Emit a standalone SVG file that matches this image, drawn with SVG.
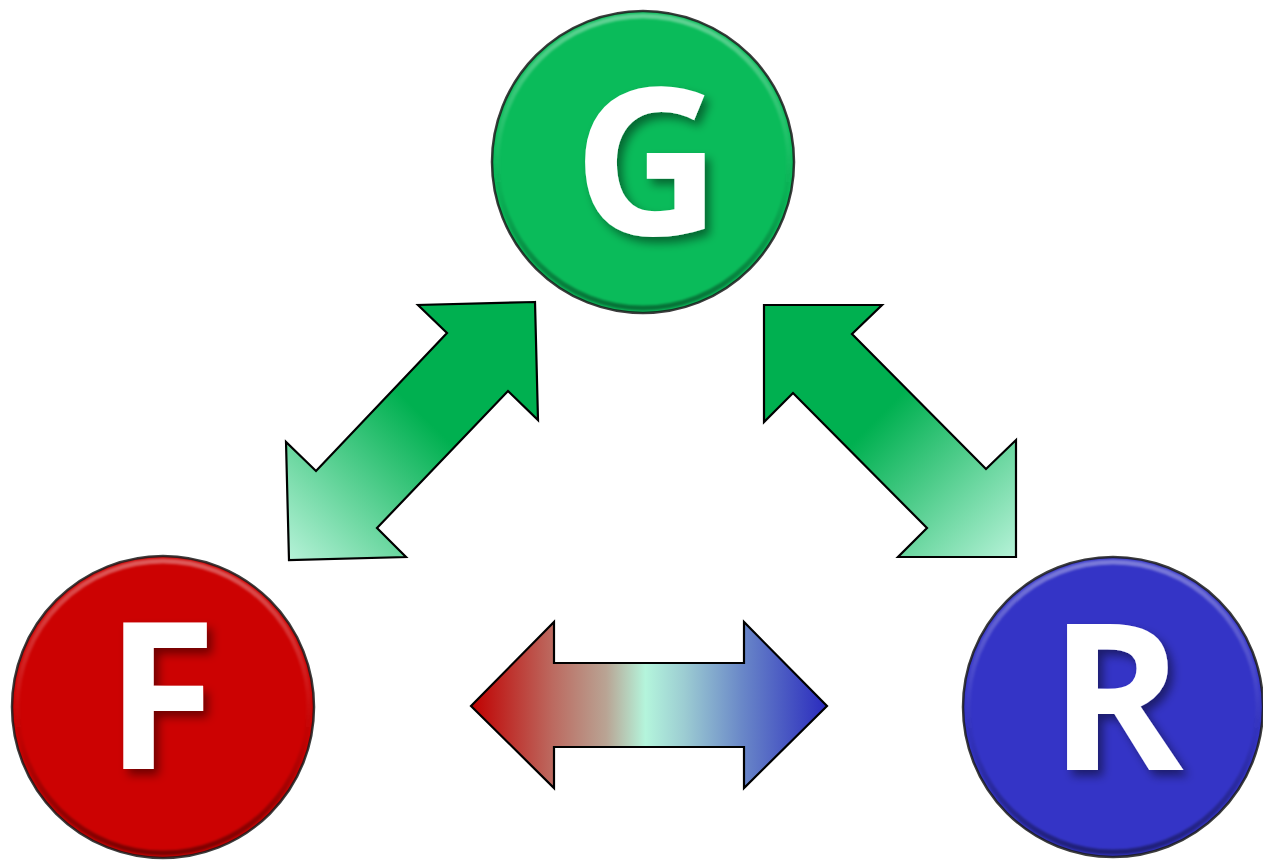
<svg xmlns="http://www.w3.org/2000/svg" width="1263" height="860" viewBox="0 0 1263 860">
  <style>
    .edge { stroke: #000; stroke-width: 2.2; stroke-linejoin: miter; }
    .disc-outline { stroke: #1b1b1b; stroke-width: 2.5; stroke-opacity: 0.85; }
    .bevel { fill: none; stroke: url(#bevel); stroke-width: 5; filter: url(#soft); }
    .letter { font-family: "Open Sans", "Noto Sans", "Liberation Sans", sans-serif; font-weight: 700; font-size: 204px; fill: #fff; text-anchor: middle; filter: url(#shadow); }
  </style>
  <defs>
    <linearGradient id="bevel" x1="0" y1="0" x2="0" y2="1">
      <stop offset="0" stop-color="#ffffff" stop-opacity="0.35"/>
      <stop offset="0.45" stop-color="#ffffff" stop-opacity="0.06"/>
      <stop offset="0.6" stop-color="#000000" stop-opacity="0.05"/>
      <stop offset="1" stop-color="#000000" stop-opacity="0.4"/>
    </linearGradient>
    <filter id="soft" x="-10%" y="-10%" width="120%" height="120%">
      <feGaussianBlur stdDeviation="1.2"/>
    </filter>
    <filter id="shadow" x="-20%" y="-20%" width="150%" height="150%">
      <feDropShadow dx="5" dy="6" stdDeviation="5" flood-color="#000" flood-opacity="0.45"/>
    </filter>
    <linearGradient id="gL" gradientUnits="userSpaceOnUse" x1="537" y1="302" x2="288" y2="560">
      <stop offset="0" stop-color="#00B050"/>
      <stop offset="0.45" stop-color="#00B050"/>
      <stop offset="1" stop-color="#B6F2D8"/>
    </linearGradient>
    <linearGradient id="gR" gradientUnits="userSpaceOnUse" x1="764" y1="305" x2="1016" y2="557">
      <stop offset="0" stop-color="#00B050"/>
      <stop offset="0.45" stop-color="#00B050"/>
      <stop offset="1" stop-color="#B6F2D8"/>
    </linearGradient>
    <linearGradient id="gH" gradientUnits="userSpaceOnUse" x1="471" y1="0" x2="827" y2="0">
      <stop offset="0" stop-color="#C00000"/>
      <stop offset="0.23" stop-color="#BC6A60"/>
      <stop offset="0.38" stop-color="#B9A494"/>
      <stop offset="0.49" stop-color="#B4F5DC"/>
      <stop offset="0.6" stop-color="#9CCCD2"/>
      <stop offset="0.76" stop-color="#6A88C8"/>
      <stop offset="1" stop-color="#2A2ABE"/>
    </linearGradient>
  </defs>

  <g id="connectors">
    <polygon id="arrow-F-G" class="edge" fill="url(#gL)" points="535,302 418,305 447,333 316,471 286,442 289,560 406,557 377,528 508,391 538,420"/>
    <polygon id="arrow-G-R" class="edge" fill="url(#gR)" points="764,305 882,305 852,334 986,469 1016,440 1016,557 898,557 927,528 793,393 764,422"/>
    <polygon id="arrow-F-R" class="edge" fill="url(#gH)" points="471,706 554,622 554,663 744,663 744,622 827,706 744,788 744,747 554,747 554,788"/>
  </g>

  <g id="node-G">
    <circle cx="643" cy="162" r="151" fill="#0ABB5A" class="disc-outline"/>
    <circle cx="643" cy="162" r="146" class="bevel"/>
    <text class="letter" x="647" y="235">G</text>
  </g>

  <g id="node-F">
    <circle cx="163" cy="707" r="151" fill="#CC0202" class="disc-outline"/>
    <circle cx="163" cy="707" r="146" class="bevel"/>
    <text class="letter" x="161" y="769">F</text>
  </g>

  <g id="node-R">
    <circle cx="1113" cy="707" r="150" fill="#3434C6" class="disc-outline"/>
    <circle cx="1113" cy="707" r="145" class="bevel"/>
    <text class="letter" x="1116" y="770">R</text>
  </g>
</svg>
